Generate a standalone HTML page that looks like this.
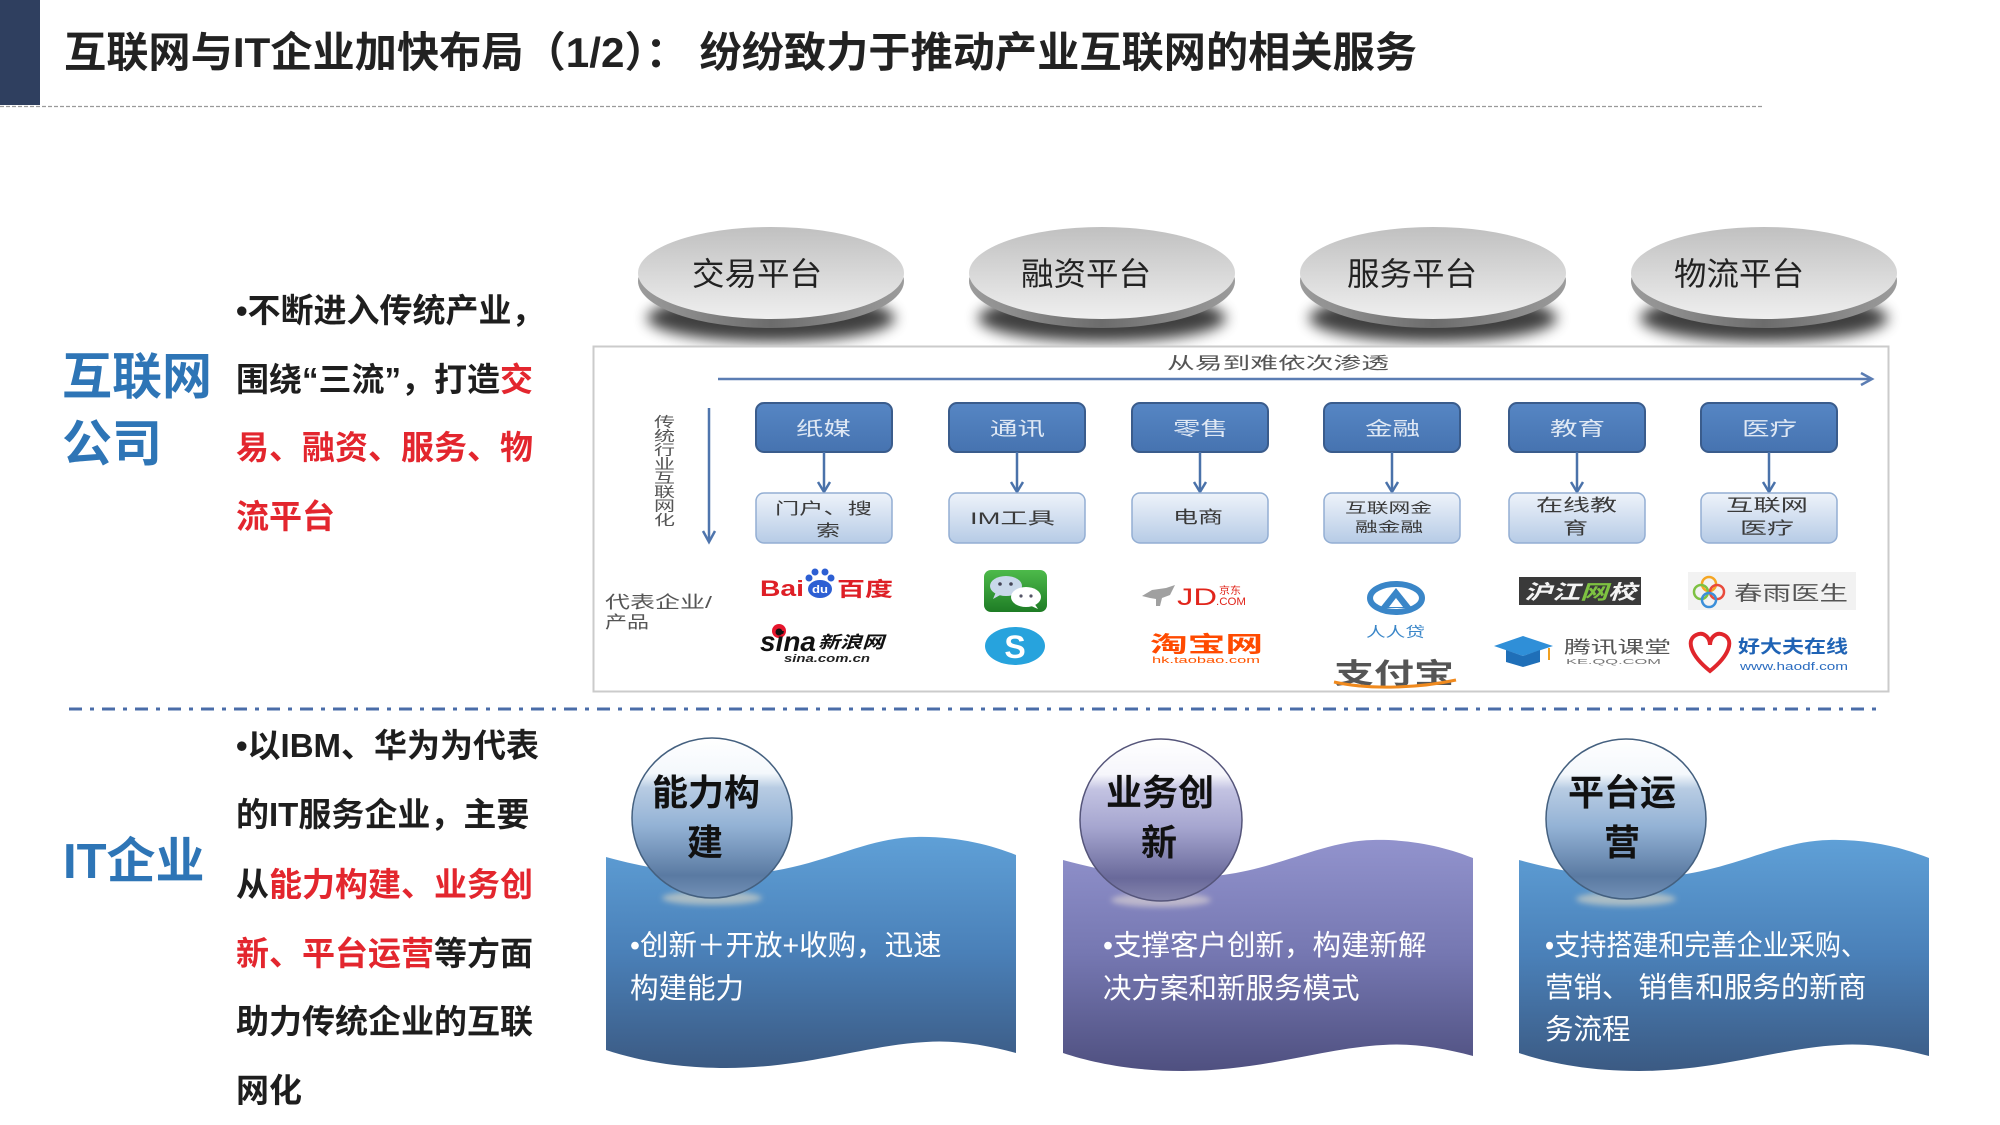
<!DOCTYPE html>
<html><head><meta charset="utf-8">
<style>
html,body{margin:0;padding:0;background:#fff;}
body{width:2000px;height:1125px;overflow:hidden;}
svg{display:block;}
</style></head>
<body>
<svg width="2000" height="1125" viewBox="0 0 2000 1125" font-family="'Liberation Sans','Noto Sans CJK SC',sans-serif">
<defs>
  <filter id="blur7" x="-50%" y="-100%" width="200%" height="300%"><feGaussianBlur stdDeviation="7"/></filter>
  <filter id="blur3" x="-50%" y="-100%" width="200%" height="300%"><feGaussianBlur stdDeviation="3"/></filter>
  <linearGradient id="discFace" x1="0" y1="0" x2="0" y2="1">
    <stop offset="0" stop-color="#c0c0c0"/><stop offset="0.55" stop-color="#dadada"/><stop offset="1" stop-color="#efefef"/>
  </linearGradient>
  <linearGradient id="discRim" x1="0" y1="0" x2="1" y2="0">
    <stop offset="0" stop-color="#9c9c9c"/><stop offset="0.5" stop-color="#6c6c6c"/><stop offset="1" stop-color="#9c9c9c"/>
  </linearGradient>
  <linearGradient id="tbox" x1="0" y1="0" x2="0" y2="1">
    <stop offset="0" stop-color="#5686c4"/><stop offset="1" stop-color="#4673b0"/>
  </linearGradient>
  <linearGradient id="bbox" x1="0" y1="0" x2="0" y2="1">
    <stop offset="0" stop-color="#eef3fa"/><stop offset="1" stop-color="#b6cbe6"/>
  </linearGradient>
  <linearGradient id="panelBlue" x1="0" y1="0" x2="0" y2="1">
    <stop offset="0" stop-color="#5fa0d7"/><stop offset="0.5" stop-color="#4a80b8"/><stop offset="1" stop-color="#3b5a83"/>
  </linearGradient>
  <linearGradient id="panelPurple" x1="0" y1="0" x2="0" y2="1">
    <stop offset="0" stop-color="#9293cd"/><stop offset="0.5" stop-color="#7577b1"/><stop offset="1" stop-color="#4f5080"/>
  </linearGradient>
  <linearGradient id="sphBlue" x1="0" y1="0" x2="0" y2="1">
    <stop offset="0" stop-color="#ffffff"/><stop offset="0.22" stop-color="#f4f8fc"/><stop offset="0.31" stop-color="#b8cce3"/>
    <stop offset="0.55" stop-color="#93b2d5"/><stop offset="0.86" stop-color="#5a7aa2"/><stop offset="1" stop-color="#7391b6"/>
  </linearGradient>
  <linearGradient id="sphPurple" x1="0" y1="0" x2="0" y2="1">
    <stop offset="0" stop-color="#ffffff"/><stop offset="0.22" stop-color="#f6f6fb"/><stop offset="0.31" stop-color="#c3c3e2"/>
    <stop offset="0.55" stop-color="#a5a5cf"/><stop offset="0.86" stop-color="#69699a"/><stop offset="1" stop-color="#8686ae"/>
  </linearGradient>
  <linearGradient id="wechat" x1="0" y1="0" x2="0" y2="1">
    <stop offset="0" stop-color="#4dba4a"/><stop offset="1" stop-color="#1e7c25"/>
  </linearGradient>
</defs>

<!-- Header -->
<rect x="0" y="0" width="40" height="105" fill="#2f3f5f"/>
<text x="64" y="67" font-size="42" font-weight="bold" fill="#222" textLength="1353" lengthAdjust="spacingAndGlyphs">互联网与IT企业加快布局（1/2）： 纷纷致力于推动产业互联网的相关服务</text>
<line x1="0" y1="106.5" x2="1762" y2="106.5" stroke="#9a9a9a" stroke-width="1.2" stroke-dasharray="4 2"/>

<!-- Left: 互联网公司 -->
<text x="62" y="394" font-size="50" font-weight="bold" fill="#2e75b6">互联网</text>
<text x="62" y="461" font-size="50" font-weight="bold" fill="#2e75b6">公司</text>
<g font-size="33" font-weight="bold" fill="#1e1e1e">
  <text x="236" y="322">•不断进入传统产业，</text>
  <text x="236" y="391">围绕“三流”，打造<tspan fill="#e3262e">交</tspan></text>
  <text x="236" y="459" fill="#e3262e">易、融资、服务、物</text>
  <text x="236" y="528" fill="#e3262e">流平台</text>
</g>

<!-- Discs -->
<g>
  <ellipse cx="771" cy="318" rx="124" ry="24" fill="#000" opacity="0.75" filter="url(#blur7)"/>
  <ellipse cx="1102" cy="318" rx="124" ry="24" fill="#000" opacity="0.75" filter="url(#blur7)"/>
  <ellipse cx="1433" cy="318" rx="124" ry="24" fill="#000" opacity="0.75" filter="url(#blur7)"/>
  <ellipse cx="1764" cy="318" rx="124" ry="24" fill="#000" opacity="0.75" filter="url(#blur7)"/>
  <ellipse cx="771" cy="281" rx="133" ry="47" fill="url(#discRim)"/>
  <ellipse cx="1102" cy="281" rx="133" ry="47" fill="url(#discRim)"/>
  <ellipse cx="1433" cy="281" rx="133" ry="47" fill="url(#discRim)"/>
  <ellipse cx="1764" cy="281" rx="133" ry="47" fill="url(#discRim)"/>
  <ellipse cx="771" cy="273" rx="133" ry="46" fill="url(#discFace)"/>
  <ellipse cx="1102" cy="273" rx="133" ry="46" fill="url(#discFace)"/>
  <ellipse cx="1433" cy="273" rx="133" ry="46" fill="url(#discFace)"/>
  <ellipse cx="1764" cy="273" rx="133" ry="46" fill="url(#discFace)"/>
  <g font-size="32" fill="#222">
    <text x="692" y="285" textLength="130" lengthAdjust="spacingAndGlyphs">交易平台</text>
    <text x="1021" y="285" textLength="130" lengthAdjust="spacingAndGlyphs">融资平台</text>
    <text x="1347" y="285" textLength="130" lengthAdjust="spacingAndGlyphs">服务平台</text>
    <text x="1674" y="285" textLength="130" lengthAdjust="spacingAndGlyphs">物流平台</text>
  </g>
</g>

<!-- Diagram box -->
<rect x="593.5" y="346.5" width="1295" height="345" fill="#fff" stroke="#cbcbcb" stroke-width="2"/>
<text x="1167" y="369" font-size="17" fill="#555" textLength="222" lengthAdjust="spacingAndGlyphs">从易到难依次渗透</text>
<line x1="718" y1="379" x2="1871" y2="379" stroke="#5b7db3" stroke-width="2.5"/>
<polyline points="1861,373 1872,379 1861,385" fill="none" stroke="#5b7db3" stroke-width="2.5"/>

<line x1="709" y1="408" x2="709" y2="541" stroke="#4f75ad" stroke-width="2.5"/>
<polyline points="703,531 709,542 715,531" fill="none" stroke="#4f75ad" stroke-width="2.5"/>
<g font-size="14" fill="#555">
  <text x="654" y="427" textLength="21" lengthAdjust="spacingAndGlyphs">传</text>
  <text x="654" y="441" textLength="21" lengthAdjust="spacingAndGlyphs">统</text>
  <text x="654" y="455" textLength="21" lengthAdjust="spacingAndGlyphs">行</text>
  <text x="654" y="469" textLength="21" lengthAdjust="spacingAndGlyphs">业</text>
  <text x="654" y="483" textLength="21" lengthAdjust="spacingAndGlyphs">互</text>
  <text x="654" y="497" textLength="21" lengthAdjust="spacingAndGlyphs">联</text>
  <text x="654" y="511" textLength="21" lengthAdjust="spacingAndGlyphs">网</text>
  <text x="654" y="525" textLength="21" lengthAdjust="spacingAndGlyphs">化</text>
</g>

<!-- Top boxes -->
<g stroke="#3a5c8c" stroke-width="2" fill="url(#tbox)">
  <rect x="756" y="403" width="136" height="49" rx="8"/>
  <rect x="949" y="403" width="136" height="49" rx="8"/>
  <rect x="1132" y="403" width="136" height="49" rx="8"/>
  <rect x="1324" y="403" width="136" height="49" rx="8"/>
  <rect x="1509" y="403" width="136" height="49" rx="8"/>
  <rect x="1701" y="403" width="136" height="49" rx="8"/>
</g>
<g font-size="19" fill="#dfe8f4">
  <text x="796" y="435" textLength="55" lengthAdjust="spacingAndGlyphs">纸媒</text>
  <text x="990" y="435" textLength="55" lengthAdjust="spacingAndGlyphs">通讯</text>
  <text x="1173" y="435" textLength="55" lengthAdjust="spacingAndGlyphs">零售</text>
  <text x="1365" y="435" textLength="55" lengthAdjust="spacingAndGlyphs">金融</text>
  <text x="1550" y="435" textLength="55" lengthAdjust="spacingAndGlyphs">教育</text>
  <text x="1742" y="435" textLength="55" lengthAdjust="spacingAndGlyphs">医疗</text>
</g>
<!-- connectors -->
<g stroke="#4a72aa" stroke-width="2.5" fill="none">
  <line x1="824" y1="452" x2="824" y2="490"/><polyline points="818,482 824,492 830,482"/>
  <line x1="1017" y1="452" x2="1017" y2="490"/><polyline points="1011,482 1017,492 1023,482"/>
  <line x1="1200" y1="452" x2="1200" y2="490"/><polyline points="1194,482 1200,492 1206,482"/>
  <line x1="1392" y1="452" x2="1392" y2="490"/><polyline points="1386,482 1392,492 1398,482"/>
  <line x1="1577" y1="452" x2="1577" y2="490"/><polyline points="1571,482 1577,492 1583,482"/>
  <line x1="1769" y1="452" x2="1769" y2="490"/><polyline points="1763,482 1769,492 1775,482"/>
</g>
<!-- Bottom boxes -->
<g stroke="#93aed3" stroke-width="1.5" fill="url(#bbox)">
  <rect x="756" y="493" width="136" height="50" rx="8"/>
  <rect x="949" y="493" width="136" height="50" rx="8"/>
  <rect x="1132" y="493" width="136" height="50" rx="8"/>
  <rect x="1324" y="493" width="136" height="50" rx="8"/>
  <rect x="1509" y="493" width="136" height="50" rx="8"/>
  <rect x="1701" y="493" width="136" height="50" rx="8"/>
</g>
<g fill="#3a3a3a">
  <text x="775" y="514" font-size="16" textLength="97" lengthAdjust="spacingAndGlyphs">门户、搜</text>
  <text x="816" y="536" font-size="16" textLength="24" lengthAdjust="spacingAndGlyphs">索</text>
  <text x="970" y="524" font-size="17" textLength="85" lengthAdjust="spacingAndGlyphs">IM工具</text>
  <text x="1173" y="523" font-size="17" textLength="50" lengthAdjust="spacingAndGlyphs">电商</text>
  <text x="1345" y="513" font-size="14" textLength="87" lengthAdjust="spacingAndGlyphs">互联网金</text>
  <text x="1355" y="532" font-size="14" textLength="68" lengthAdjust="spacingAndGlyphs">融金融</text>
  <text x="1536" y="511" font-size="17" textLength="81" lengthAdjust="spacingAndGlyphs">在线教</text>
  <text x="1563" y="534" font-size="17" textLength="25" lengthAdjust="spacingAndGlyphs">育</text>
  <text x="1726" y="511" font-size="17" textLength="82" lengthAdjust="spacingAndGlyphs">互联网</text>
  <text x="1740" y="534" font-size="17" textLength="54" lengthAdjust="spacingAndGlyphs">医疗</text>
</g>

<!-- 代表企业 -->
<g font-size="17" fill="#555">
  <text x="605" y="608" textLength="107" lengthAdjust="spacingAndGlyphs">代表企业/</text>
  <text x="605" y="628" textLength="44" lengthAdjust="spacingAndGlyphs">产品</text>
</g>

<!-- Logos -->
<!-- Baidu -->
<text x="760" y="596" font-size="22" font-weight="bold" fill="#de1f26" textLength="44" lengthAdjust="spacingAndGlyphs">Bai</text>
<g fill="#2d5fd3">
  <ellipse cx="820" cy="589" rx="12" ry="9"/>
  <circle cx="809" cy="578" r="3.5"/><circle cx="815" cy="572" r="3.5"/><circle cx="825" cy="572" r="3.5"/><circle cx="831" cy="578" r="3.5"/>
</g>
<text x="812" y="593" font-size="11" font-weight="bold" fill="#fff" textLength="16" lengthAdjust="spacingAndGlyphs">du</text>
<text x="837" y="596" font-size="20" font-weight="bold" fill="#de1f26" textLength="56" lengthAdjust="spacingAndGlyphs">百度</text>
<!-- Sina -->
<circle cx="779" cy="631" r="7" fill="#e6162d"/><circle cx="779" cy="632" r="3.5" fill="#111"/>
<text x="760" y="651" font-size="28" font-weight="bold" font-style="italic" fill="#111" textLength="56" lengthAdjust="spacingAndGlyphs">sina</text>
<text x="818" y="648" font-size="17" font-weight="bold" font-style="italic" fill="#111" textLength="66" lengthAdjust="spacingAndGlyphs">新浪网</text>
<text x="784" y="662" font-size="11" font-weight="bold" font-style="italic" fill="#222" textLength="86" lengthAdjust="spacingAndGlyphs">sina.com.cn</text>
<!-- WeChat -->
<rect x="984" y="570" width="63" height="42" rx="7" fill="url(#wechat)"/>
<ellipse cx="1006" cy="586" rx="16" ry="10" fill="#c9d8ea"/>
<path d="M996,592 L993,599 L1002,594 Z" fill="#c9d8ea"/>
<ellipse cx="1026" cy="597" rx="15" ry="10" fill="#ffffff"/>
<path d="M1034,603 L1038,609 L1029,605 Z" fill="#ffffff"/>
<circle cx="1000" cy="584" r="1.8" fill="#445"/><circle cx="1011" cy="584" r="1.8" fill="#445"/>
<circle cx="1021" cy="596" r="1.6" fill="#556"/><circle cx="1031" cy="596" r="1.6" fill="#556"/>
<!-- Skype -->
<ellipse cx="1015" cy="646" rx="30" ry="19" fill="#27a3dd"/>
<text x="1015" y="658" font-size="32" font-weight="bold" fill="#fff" text-anchor="middle">S</text>
<!-- JD -->
<path d="M1142,596 L1152,590 L1166,588 L1175,585 L1170,595 L1162,598 L1160,606 L1156,606 L1156,599 L1150,598 Z" fill="#a0a0a0"/>
<text x="1177" y="605" font-size="24" fill="#e1251b" textLength="40" lengthAdjust="spacingAndGlyphs">JD</text>
<text x="1219" y="594" font-size="10" fill="#e1251b" textLength="22" lengthAdjust="spacingAndGlyphs">京东</text>
<text x="1216" y="605" font-size="11" fill="#e1251b" textLength="30" lengthAdjust="spacingAndGlyphs">.COM</text>
<!-- Taobao -->
<text x="1150" y="652" font-size="22" font-weight="bold" fill="#ff4a00" textLength="113" lengthAdjust="spacingAndGlyphs">淘宝网</text>
<text x="1152" y="663" font-size="9" fill="#ff5500" textLength="108" lengthAdjust="spacingAndGlyphs">hk.taobao.com</text>
<!-- Renrendai -->
<ellipse cx="1396" cy="598" rx="26" ry="14" fill="none" stroke="#3a86c8" stroke-width="6"/>
<path d="M1380,608 L1396,588 L1412,608 Z" fill="#3a86c8"/>
<path d="M1389,607 L1396,598 L1403,607 Z" fill="#fff"/>
<text x="1366" y="637" font-size="14" fill="#3a86c8" textLength="59" lengthAdjust="spacingAndGlyphs">人人贷</text>
<!-- Alipay -->
<text x="1334" y="683" font-size="28" font-weight="bold" fill="#555" textLength="120" lengthAdjust="spacingAndGlyphs">支付宝</text>
<path d="M1334,682 C1370,690 1420,688 1456,680" fill="none" stroke="#f08a1e" stroke-width="3"/>
<!-- Hujiang -->
<rect x="1519" y="577" width="122" height="28" fill="#3a3a3a"/>
<text x="1524" y="599" font-size="20" font-weight="bold" font-style="italic" fill="#f4f4f4" textLength="112" lengthAdjust="spacingAndGlyphs">沪江<tspan fill="#7ec241">网</tspan>校</text>
<!-- Tencent classroom -->
<path d="M1494,646 L1523,636 L1553,646 L1523,656 Z" fill="#2f8fd8"/>
<path d="M1506,650 L1523,656 L1540,650 L1540,662 L1523,667 L1506,662 Z" fill="#1f6fb8"/>
<line x1="1549" y1="648" x2="1549" y2="660" stroke="#f0a020" stroke-width="2"/>
<text x="1564" y="653" font-size="17" fill="#555" textLength="107" lengthAdjust="spacingAndGlyphs">腾讯课堂</text>
<text x="1566" y="664" font-size="7" fill="#777" textLength="95" lengthAdjust="spacingAndGlyphs">KE.QQ.COM</text>
<!-- Chunyu -->
<rect x="1688" y="572" width="168" height="38" fill="#f2f2f2"/>
<g fill="none" stroke-width="2.5">
  <circle cx="1709" cy="584" r="7" stroke="#f5a623"/>
  <circle cx="1701" cy="592" r="7" stroke="#7dc142"/>
  <circle cx="1717" cy="592" r="7" stroke="#e94b3c"/>
  <circle cx="1709" cy="600" r="7" stroke="#3b8fd9"/>
</g>
<text x="1734" y="600" font-size="20" fill="#555" textLength="114" lengthAdjust="spacingAndGlyphs">春雨医生</text>
<!-- Haodf -->
<path d="M1710,671 C1690,655 1686,640 1696,635 C1704,631 1710,638 1710,645 C1710,638 1716,631 1724,635 C1734,640 1730,655 1710,671 Z" fill="none" stroke="#e0262c" stroke-width="4"/>
<text x="1738" y="653" font-size="18" font-weight="bold" fill="#1f63b5" textLength="110" lengthAdjust="spacingAndGlyphs">好大夫在线</text>
<text x="1740" y="670" font-size="11" fill="#2a6cc0" textLength="108" lengthAdjust="spacingAndGlyphs">www.haodf.com</text>

<!-- Separator -->
<line x1="69" y1="709" x2="1880" y2="709" stroke="#4a6ca8" stroke-width="3" stroke-dasharray="13 8 4 8"/>

<!-- Left: IT企业 -->
<text x="63" y="878" font-size="49" font-weight="bold" fill="#2e75b6">IT企业</text>
<g font-size="33" font-weight="bold" fill="#1e1e1e">
  <text x="236" y="757">•以IBM、华为为代表</text>
  <text x="236" y="826">的IT服务企业，主要</text>
  <text x="236" y="896">从<tspan fill="#e3262e">能力构建、业务创</tspan></text>
  <text x="236" y="965"><tspan fill="#e3262e">新、平台运营</tspan>等方面</text>
  <text x="236" y="1033">助力传统企业的互联</text>
  <text x="236" y="1102">网化</text>
</g>

<!-- Panels -->
<path transform="translate(606,0)" fill="url(#panelBlue)" d="M0,857 C40,868 100,880 160,872 C220,864 260,838 310,837 C350,836 385,845 410,855 L410,1053 C380,1045 350,1040 320,1042 C260,1045 200,1068 120,1068 C70,1068 30,1060 0,1050 Z"/>
<path transform="translate(1063,3)" fill="url(#panelPurple)" d="M0,857 C40,868 100,880 160,872 C220,864 260,838 310,837 C350,836 385,845 410,855 L410,1053 C380,1045 350,1040 320,1042 C260,1045 200,1068 120,1068 C70,1068 30,1060 0,1050 Z"/>
<path transform="translate(1519,3)" fill="url(#panelBlue)" d="M0,857 C40,868 100,880 160,872 C220,864 260,838 310,837 C350,836 385,845 410,855 L410,1053 C380,1045 350,1040 320,1042 C260,1045 200,1068 120,1068 C70,1068 30,1060 0,1050 Z"/>

<!-- Sphere glows -->
<ellipse cx="712" cy="898" rx="50" ry="7" fill="#f3e3c4" opacity="0.55" filter="url(#blur3)"/>
<ellipse cx="1161" cy="900" rx="50" ry="7" fill="#eee3d8" opacity="0.55" filter="url(#blur3)"/>
<ellipse cx="1626" cy="899" rx="50" ry="7" fill="#f3e3c4" opacity="0.55" filter="url(#blur3)"/>
<!-- Spheres -->
<circle cx="712" cy="818" r="80" fill="url(#sphBlue)" stroke="#44607f" stroke-width="1.5"/>
<circle cx="1161" cy="820" r="81" fill="url(#sphPurple)" stroke="#55557a" stroke-width="1.5"/>
<circle cx="1626" cy="819" r="80" fill="url(#sphBlue)" stroke="#44607f" stroke-width="1.5"/>
<g font-size="36" font-weight="bold" fill="#111" text-anchor="middle">
  <text x="706" y="805">能力构</text><text x="705" y="855">建</text>
  <text x="1160" y="805">业务创</text><text x="1159" y="855">新</text>
  <text x="1622" y="805">平台运</text><text x="1622" y="855">营</text>
</g>

<!-- Panel texts -->
<g font-size="28.5" fill="#ffffff">
  <text x="630" y="955">•创新＋开放+收购，迅速</text>
  <text x="630" y="998">构建能力</text>
  <text x="1103" y="955">•支撑客户创新，构建新解</text>
  <text x="1103" y="998">决方案和新服务模式</text>
  <text x="1545" y="955" textLength="322" lengthAdjust="spacingAndGlyphs">•支持搭建和完善企业采购、</text>
  <text x="1545" y="997">营销、 销售和服务的新商</text>
  <text x="1545" y="1039">务流程</text>
</g>
</svg>
</body></html>
